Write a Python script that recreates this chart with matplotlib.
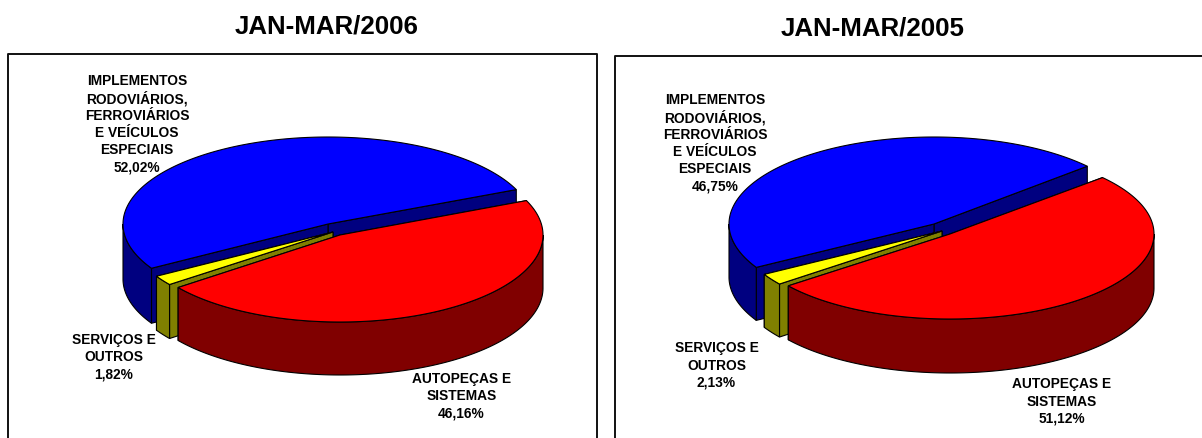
import numpy as np
from matplotlib import pyplot as plt

plt.rcParams['font.family'] = ['Liberation Sans', 'DejaVu Sans']

labels = ['IMPLEMENTOS\nRODOVIÁRIOS,\nFERROVIÁRIOS\nE VEÍCULOS\nESPECIAIS', 'SERVIÇOS E\nOUTROS', 'AUTOPEÇAS E\nSISTEMAS']
values_2006 = [52.02, 1.82, 46.16]
values_2005 = [46.75, 2.13, 51.12]
pct_2006 = ['52,02%', '1,82%', '46,16%']
pct_2005 = ['46,75%', '2,13%', '51,12%']

top_colors = ['#0000ff', '#ffff00', '#ff0000']
side_colors = ['#000080', '#808000', '#800000']

A, B = 205, 87  # ellipse radii in pixels
LINE_H = 17.3


def pt(c, deg, a=A, b=B):
    t = np.radians(deg)
    return c[0] + a * np.cos(t), c[1] - b * np.sin(t)


def arc(c, d0, d1, a=A, b=B):
    t = np.radians(np.linspace(d0, d1, 200))
    return c[0] + a * np.cos(t), c[1] - b * np.sin(t)


def slice3d(ax, c, d0, d1, h, top, side, a=A, b=B):
    # cut faces first, then the round wall, then the top
    for d in (d0, d1):
        x, y = pt(c, d, a, b)
        ax.fill([c[0], x, x, c[0]], [c[1], y, y + h, c[1] + h], fc=side, ec='k', lw=0.8)
    # only the front half of the wall can be seen
    lo = max(d0, 180)
    hi = min(d1, 360)
    if hi > lo:
        x, y = arc(c, lo, hi, a, b)
        ax.fill(np.r_[x, x[::-1]], np.r_[y, y[::-1] + h], fc=side, ec='k', lw=0.8)
    x, y = arc(c, d0, d1, a, b)
    ax.fill(np.r_[c[0], x], np.r_[c[1], y], fc=top, ec='k', lw=0.8)


def pie3d(ax, values, start, centers, heights, radii):
    d0 = start
    angles = []
    for v in values:
        d1 = d0 + v * 3.6
        angles.append((d0, d1))
        d0 = d1
    for i in range(3):
        slice3d(ax, centers[i], angles[i][0], angles[i][1], heights[i], top_colors[i], side_colors[i], radii[i][0], radii[i][1])


def label(ax, x, y, text):
    lines = text.split('\n')
    for n, line in enumerate(lines):
        ax.text(x, y + (n - (len(lines) - 1) / 2) * LINE_H, line, ha='center', va='center_baseline',
                fontsize=9.9, fontweight='bold')


fig = plt.figure(figsize=(12.02, 4.38), dpi=100)
ax = fig.add_axes([0, 0, 1, 1])
ax.set_xlim(0, 1202)
ax.set_ylim(438, 0)
ax.axis('off')

# frames run off the bottom and the right of the picture
ax.plot([8, 8, 597, 597], [445, 54, 54, 445], color='#111111', lw=1.4)
ax.plot([615, 615, 1210], [445, 56, 56], color='#111111', lw=1.4)

pie3d(ax, values_2006, 23.3, [(328, 224), (333, 232), (340, 235)], [55, 54, 53], [(A, B), (A, B), (203, B)])
pie3d(ax, values_2005, 41.6, [(934, 224), (942, 231), (950, 234)], [53, 53, 54], [(A, B), (A, B), (204, 85)])

ax.text(326.5, 26, 'JAN-MAR/2006', ha='center', va='center', fontsize=18.6, fontweight='bold')
ax.text(872.5, 28, 'JAN-MAR/2005', ha='center', va='center', fontsize=18.6, fontweight='bold')

pos_2006 = [(137, 123), (114, 355.5), (461.5, 395)]
pos_2005 = [(715, 142), (716.5, 364), (1061.5, 400)]
for i in range(3):
    label(ax, pos_2006[i][0], pos_2006[i][1], labels[i] + '\n' + pct_2006[i])
    label(ax, pos_2005[i][0], pos_2005[i][1], labels[i] + '\n' + pct_2005[i])

plt.savefig('out.png', dpi=100)
